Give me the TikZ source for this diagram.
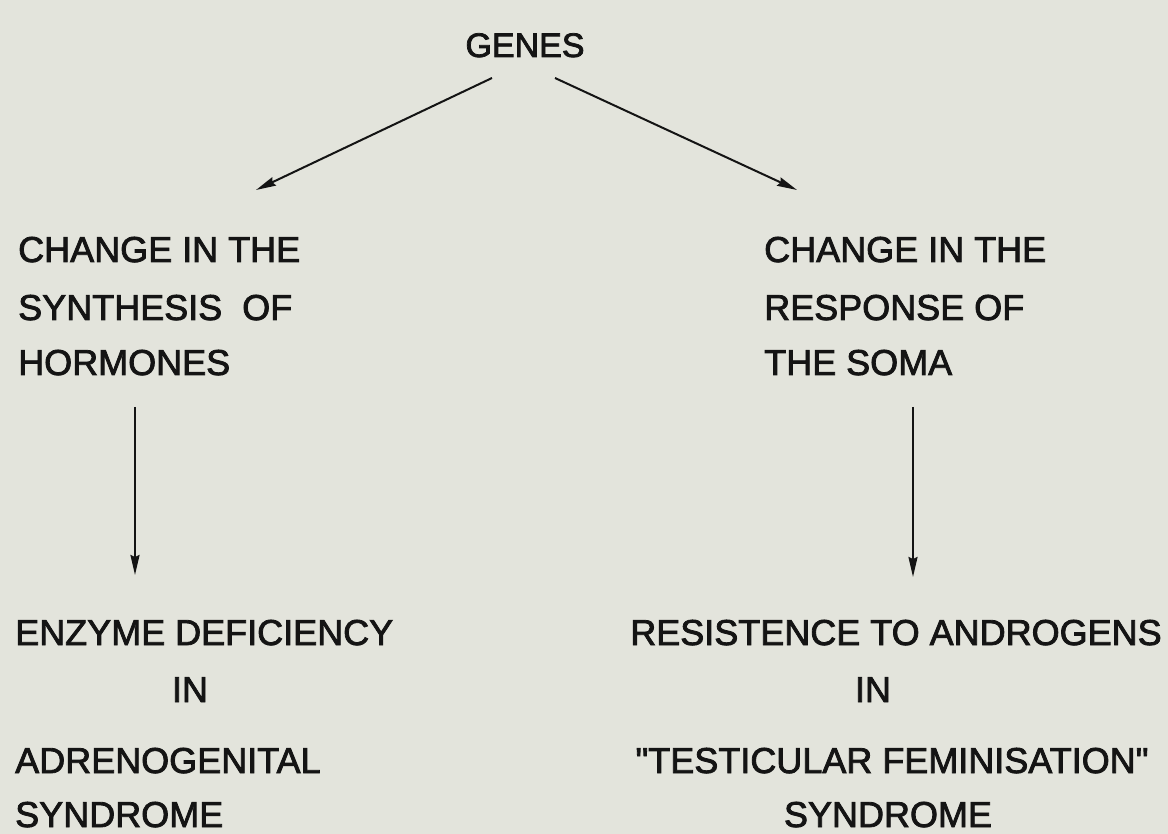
\documentclass[tikz,border=0pt]{standalone}
\usepackage{fontspec}
\setmainfont{Liberation Sans}[Ligatures=TeXOff, FakeBold=2.2]
\usetikzlibrary{arrows.meta}
\definecolor{paper}{RGB}{227,228,220}
\definecolor{ink}{RGB}{20,20,20}
\tikzset{
  lbl/.style={inner sep=0pt, text=ink, font=\fontsize{36}{40}\selectfont},
  arr/.style={draw=ink, line width=2pt, -{Stealth[length=20pt,width=9pt,inset=2pt]}}
}
\begin{document}
\begin{tikzpicture}[x=1pt,y=-1pt]
\useasboundingbox (0,0) rectangle (1168,834);
\fill[paper] (0,0) rectangle (1168,834);
% top
\node[lbl, anchor=base, font=\fontsize{34}{40}\selectfont] (genes) at (525,57) {GENES};
% left middle
\node[lbl, anchor=base west] (l1) at (18,262) {CHANGE IN THE};
\node[lbl, anchor=base west] (l2) at (18,320) {SYNTHESIS\ \ OF};
\node[lbl, anchor=base west] (l3) at (18,375) {HORMONES};
% right middle
\node[lbl, anchor=base west] (r1) at (764,262) {CHANGE IN THE};
\node[lbl, anchor=base west] (r2) at (764,320) {RESPONSE OF};
\node[lbl, anchor=base west] (r3) at (764,375) {THE SOMA};
% bottom left
\node[lbl, anchor=base west] (bl1) at (15,645) {ENZYME DEFICIENCY};
\node[lbl, anchor=base] (bl2) at (190,702) {IN};
\node[lbl, anchor=base west] (bl3) at (15,773) {ADRENOGENITAL};
\node[lbl, anchor=base west] (bl4) at (15,827) {SYNDROME};
% bottom right
\node[lbl, anchor=base] (br1) at (896,645) {RESISTENCE TO ANDROGENS};
\node[lbl, anchor=base] (br2) at (873,702) {IN};
\node[lbl, anchor=base] (br3) at (892,773) {"TESTICULAR FEMINISATION"};
\node[lbl, anchor=base] (br4) at (888,827) {SYNDROME};
% connector ends
\coordinate (gA) at (492,78);
\coordinate (gB) at (555,78);
\coordinate (lA) at (256,190);
\coordinate (rA) at (797,190);
\coordinate (lT) at (135,407);
\coordinate (lB) at (135,575);
\coordinate (rT) at (913,407);
\coordinate (rB) at (913,577);
\draw[arr] (gA) -- (lA);
\draw[arr] (gB) -- (rA);
\draw[arr] (lT) -- (lB);
\draw[arr] (rT) -- (rB);
\end{tikzpicture}
\end{document}
